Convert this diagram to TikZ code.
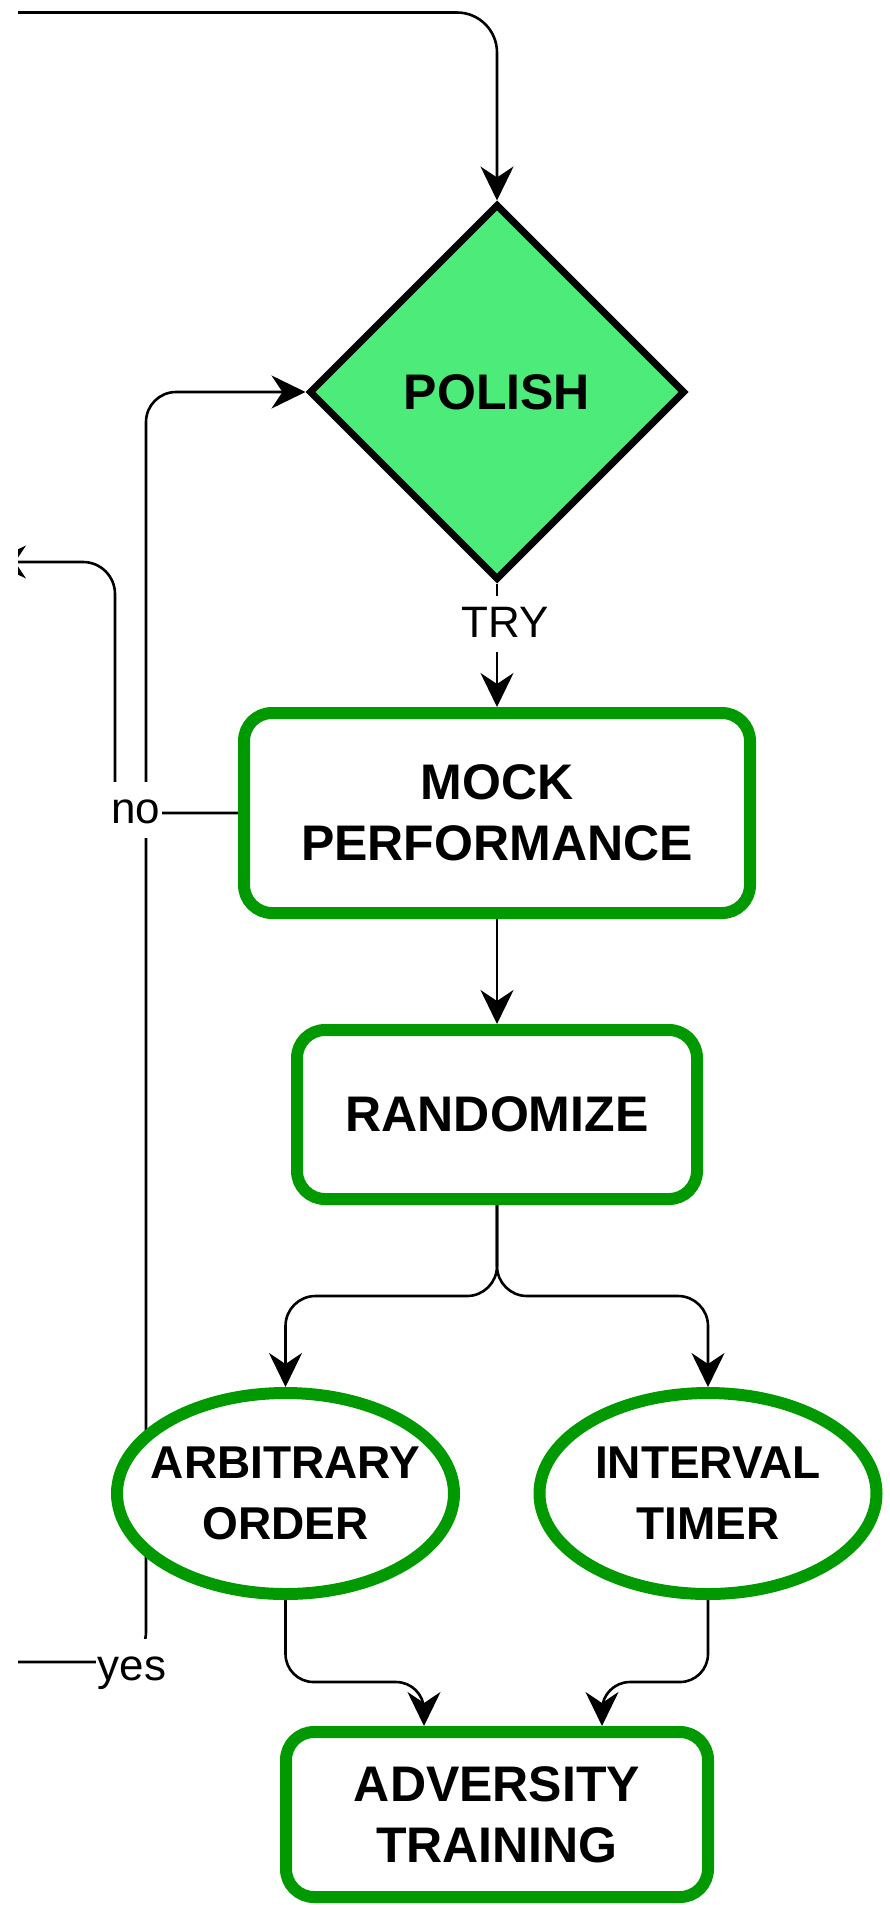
\documentclass[tikz,border=0pt]{standalone}
\usepackage{fontspec}
\setmainfont{Liberation Sans}
\usetikzlibrary{shapes.geometric,arrows.meta}
\definecolor{gstroke}{RGB}{0,153,0}
\definecolor{dfill}{RGB}{77,235,122}
\pgfdeclarelayer{edges}
\pgfsetlayers{edges,main}
\begin{document}
\begin{tikzpicture}[x=1pt,y=-1pt,
  conn/.style={line width=2.6pt, draw=black, -{Stealth[length=34pt,width=33pt,inset=11pt]}, rounded corners=30pt},
  box/.style={rectangle, draw=gstroke, line width=12pt, rounded corners=28pt, fill=white, align=center,
    font=\fontsize{50}{61}\selectfont\bfseries, inner sep=0pt},
  oval/.style={ellipse, draw=gstroke, line width=12pt, fill=white, align=center,
    font=\fontsize{46}{61}\selectfont\bfseries, inner xsep=-50pt, inner ysep=0pt,
    minimum width=337pt, minimum height=201pt},
  lbl/.style={fill=white, font=\fontsize{44}{50}\selectfont, inner xsep=2pt, inner ysep=4pt,
    text height=37pt, text depth=11pt},
]
\useasboundingbox (0,0) rectangle (890,1905);

% nodes
\node[diamond, draw=black, line width=7pt, fill=dfill, minimum width=376pt, minimum height=376pt,
  inner sep=0pt, font=\fontsize{50}{61}\selectfont\bfseries] (polish) at (497,392) {POLISH};
\node[box, minimum width=506pt, minimum height=200pt] (mock) at (497,813) {MOCK\\PERFORMANCE};
\node[box, minimum width=400pt, minimum height=169pt] (rand) at (497,1114.5) {RANDOMIZE};
\node[oval] (arb) at (285.5,1493.5) {ARBITRARY\\ORDER};
\node[oval] (intv) at (708,1493.5) {INTERVAL\\TIMER};
\node[box, minimum width=422pt, minimum height=165pt] (adv) at (497,1814.5) {ADVERSITY\\TRAINING};

% coordinates
\coordinate (topstart) at (-10,12.5);
\coordinate (fork) at (497,1296);
\coordinate (a1) at (285.5,1682);
\coordinate (a2) at (424,1682);
\coordinate (b1) at (708,1682);
\coordinate (b2) at (602,1682);
\coordinate (n1) at (115,813);
\coordinate (n2) at (115,562);
\coordinate (n3) at (-8,562);
\coordinate (y0) at (-10,1662);
\coordinate (y1) at (146,1662);
\coordinate (y2) at (146,392);

\begin{pgfonlayer}{edges}
\clip (18,-20) rectangle (900,1925);
\draw[conn, rounded corners=40pt] (topstart) -- (polish.north |- topstart) -- (polish.north);
\draw[conn] (polish.south) -- (mock.north);
\draw[conn] (mock.south) -- (rand.north);
\draw[conn] (rand.south) -- (fork) -| (arb.north);
\draw[conn] (rand.south) -- (fork) -| (intv.north);
\draw[conn, rounded corners=28pt] (arb.south) -- (a1) -- (a2) [rounded corners=11pt] -- (a2 |- adv.north);
\draw[conn, rounded corners=28pt] (intv.south) -- (b1) -- (b2) [rounded corners=11pt] -- (b2 |- adv.north);
\draw[conn, rounded corners=32pt] (mock.west) -- (n1) -- (n2) -- (n3);
\draw[conn, rounded corners=30pt] (y0) -- (y1) -- (y2) -- (polish.west);
\end{pgfonlayer}

% labels
\node[lbl] (ltry) at (505,624) {TRY};
\node[lbl] (lno) at (136,810) {no};
\node[lbl] (lyes) at (132,1667) {yes};
\end{tikzpicture}
\end{document}
